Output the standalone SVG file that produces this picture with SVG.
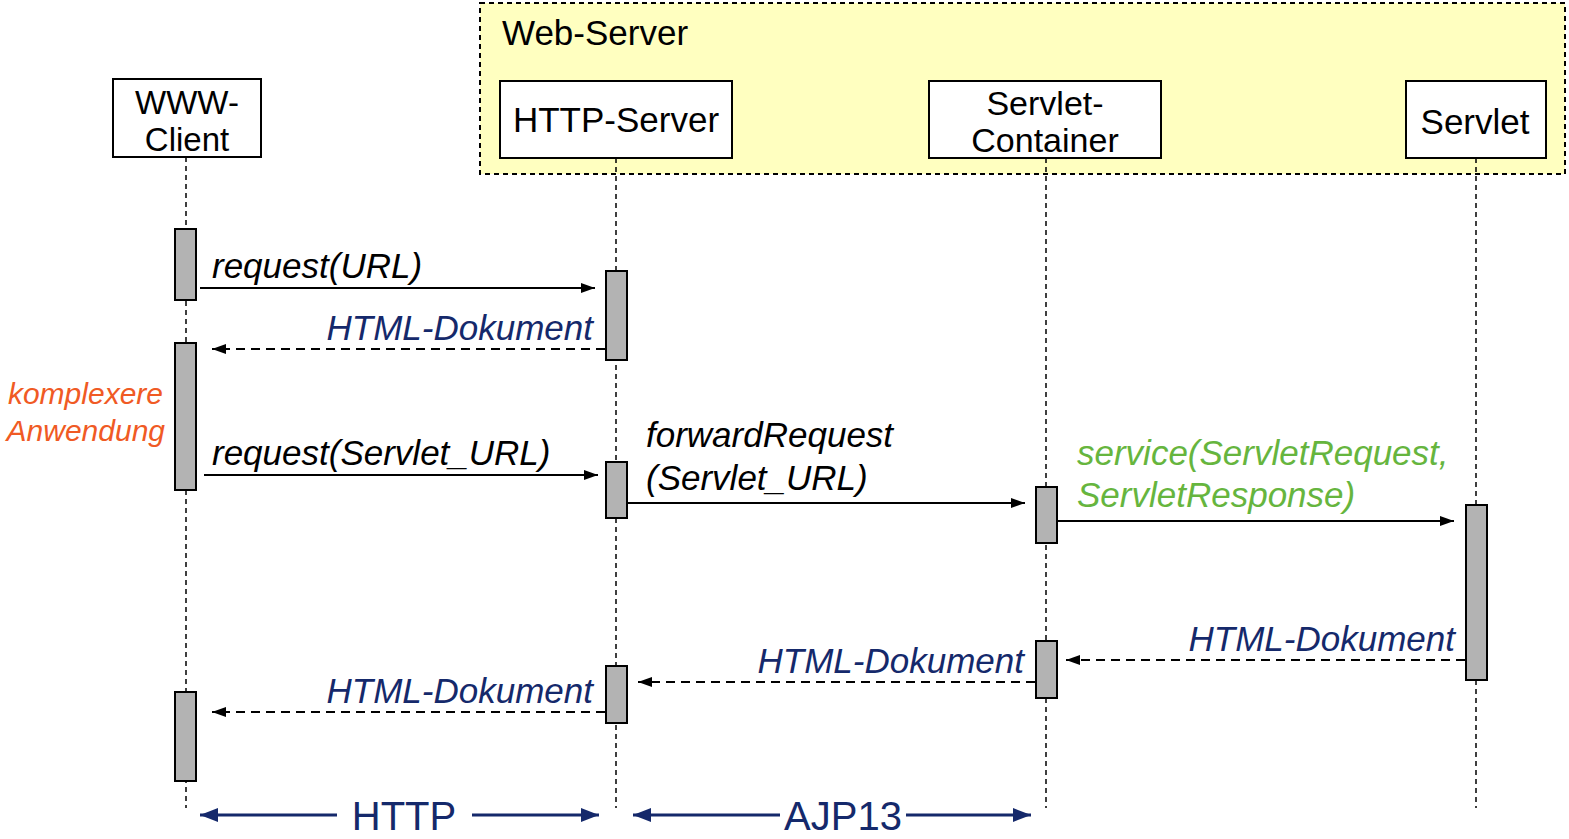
<svg xmlns="http://www.w3.org/2000/svg" width="1569" height="839" viewBox="0 0 1569 839">
<style>
.box{fill:#fff;stroke:#000;stroke-width:2}
.lbl{font-family:"Liberation Sans",Arial,sans-serif;font-size:35px;fill:#000}
.msg{font-family:"Liberation Sans",Arial,sans-serif;font-size:35px;font-style:italic}
.life{stroke:#000;stroke-width:1.5;stroke-dasharray:5,4;fill:none}
.act{fill:#b3b3b3;stroke:#000;stroke-width:2}
.call{stroke:#000;stroke-width:2;fill:none;marker-end:url(#ah)}
.ret{stroke:#000;stroke-width:2;stroke-dasharray:9,6;fill:none;marker-end:url(#ah)}
.proto{stroke:#15296b;stroke-width:3;fill:none}
.navy{fill:#15296b}
</style>
<defs>
<marker id="ah" markerUnits="userSpaceOnUse" markerWidth="16" markerHeight="12" refX="14" refY="5" orient="auto"><path d="M0,0 L14,5 L0,10 z" fill="#000"/></marker>
<marker id="nh" markerUnits="userSpaceOnUse" markerWidth="20" markerHeight="16" refX="18" refY="7" orient="auto"><path d="M0,0 L18,7 L0,14 z" fill="#15296b"/></marker>
</defs>
<rect width="1569" height="839" fill="#fff"/>
<g id="web-server">
<rect x="480" y="3" width="1085" height="171" fill="#ffffc0" stroke="#000" stroke-width="2" stroke-dasharray="5,4"/>
<text class="lbl" x="502" y="45">Web-Server</text>
</g>
<g id="lifelines">
<line class="life" x1="186" y1="157" x2="186" y2="808"/>
<line class="life" x1="616" y1="158" x2="616" y2="808"/>
<line class="life" x1="1046" y1="158" x2="1046" y2="808"/>
<line class="life" x1="1476" y1="158" x2="1476" y2="808"/>
</g>
<g id="www-client">
<rect class="box" x="113" y="79" width="148" height="78"/>
<text class="lbl" style="font-size:33px" x="187" y="114" text-anchor="middle">WWW-</text>
<text class="lbl" style="font-size:33px" x="187" y="151" text-anchor="middle">Client</text>
<rect class="act" x="175" y="229" width="21" height="71"/>
<rect class="act" x="175" y="343" width="21" height="147"/>
<rect class="act" x="175" y="692" width="21" height="89"/>
</g>
<g id="http-server">
<rect class="box" x="500" y="81" width="232" height="77"/>
<text class="lbl" x="616" y="132" text-anchor="middle">HTTP-Server</text>
<rect class="act" x="606" y="271" width="21" height="89"/>
<rect class="act" x="606" y="462" width="21" height="56"/>
<rect class="act" x="606" y="666" width="21" height="57"/>
</g>
<g id="servlet-container">
<rect class="box" x="929" y="81" width="232" height="77"/>
<text class="lbl" style="font-size:34px" x="1045" y="115" text-anchor="middle">Servlet-</text>
<text class="lbl" style="font-size:34px" x="1045" y="152" text-anchor="middle">Container</text>
<rect class="act" x="1036" y="487" width="21" height="56"/>
<rect class="act" x="1036" y="641" width="21" height="57"/>
</g>
<g id="servlet">
<rect class="box" x="1406" y="81" width="140" height="77"/>
<text class="lbl" x="1475" y="134" text-anchor="middle">Servlet</text>
<rect class="act" x="1466" y="505" width="21" height="175"/>
</g>
<g id="note">
<text class="msg" style="font-size:30px" x="163" y="404" text-anchor="end" fill="#f05a24">komplexere</text>
<text class="msg" style="font-size:30px" x="165" y="441" text-anchor="end" fill="#f05a24">Anwendung</text>
</g>
<g id="connectors">
<line class="call" x1="200" y1="288" x2="595" y2="288"/>
<text class="msg" x="212" y="278" fill="#000">request(URL)</text>
<line class="ret" x1="605" y1="349" x2="212" y2="349"/>
<text class="msg" x="593" y="340" text-anchor="end" fill="#15296b">HTML-Dokument</text>
<line class="call" x1="204" y1="475" x2="598" y2="475"/>
<text class="msg" x="212" y="465" fill="#000">request(Servlet_URL)</text>
<line class="call" x1="627" y1="503" x2="1025" y2="503"/>
<text class="msg" x="646" y="447" fill="#000">forwardRequest</text>
<text class="msg" x="646" y="490" fill="#000">(Servlet_URL)</text>
<line class="call" x1="1057" y1="521" x2="1454" y2="521"/>
<text class="msg" x="1077" y="465" fill="#66b53e">service(ServletRequest,</text>
<text class="msg" x="1077" y="507" fill="#66b53e">ServletResponse)</text>
<line class="ret" x1="1465" y1="660" x2="1066" y2="660"/>
<text class="msg" x="1455" y="651" text-anchor="end" fill="#15296b">HTML-Dokument</text>
<line class="ret" x1="1035" y1="682" x2="638" y2="682"/>
<text class="msg" x="1024" y="673" text-anchor="end" fill="#15296b">HTML-Dokument</text>
<line class="ret" x1="605" y1="712" x2="212" y2="712"/>
<text class="msg" x="593" y="703" text-anchor="end" fill="#15296b">HTML-Dokument</text>
<line class="proto" x1="337" y1="815" x2="200" y2="815" marker-end="url(#nh)"/>
<line class="proto" x1="472" y1="815" x2="599" y2="815" marker-end="url(#nh)"/>
<text class="lbl navy" style="font-size:40px" x="404" y="830" text-anchor="middle">HTTP</text>
<line class="proto" x1="780" y1="815" x2="633" y2="815" marker-end="url(#nh)"/>
<line class="proto" x1="906" y1="815" x2="1031" y2="815" marker-end="url(#nh)"/>
<text class="lbl navy" style="font-size:40px" x="843" y="830" text-anchor="middle">AJP13</text>
</g>
</svg>
